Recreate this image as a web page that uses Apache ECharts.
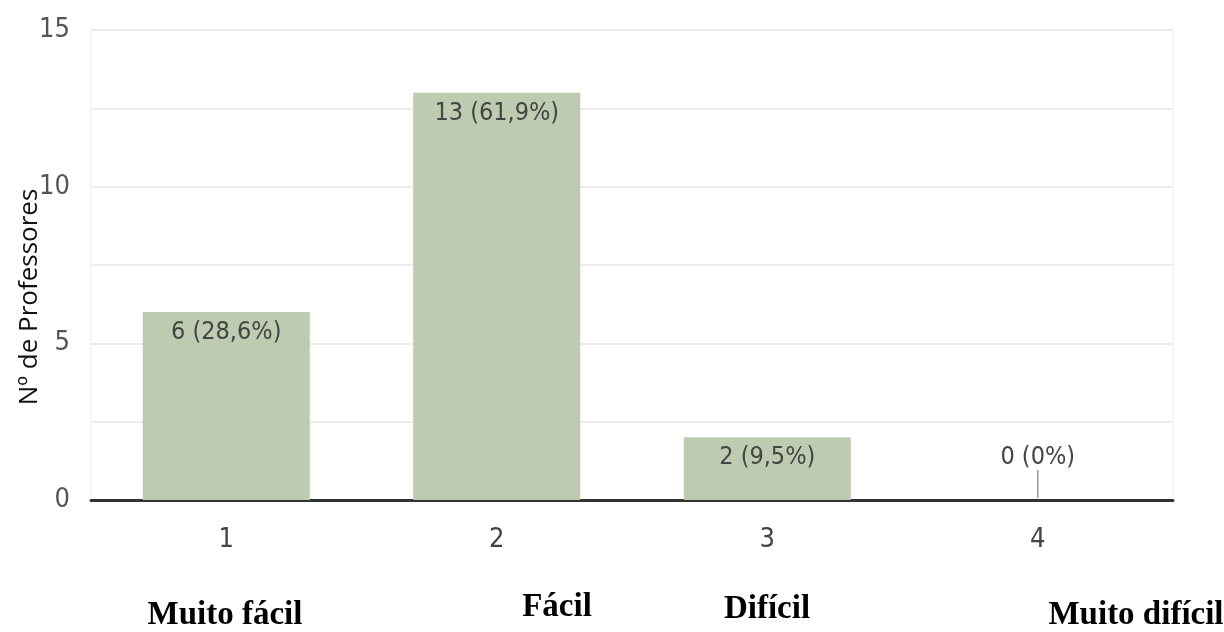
<!DOCTYPE html>
<html>
<head>
<meta charset="utf-8">
<script src="https://cdn.jsdelivr.net/npm/echarts@6/dist/echarts.min.js"></script>
<style>
  html, body { margin: 0; padding: 0; background: #fff; }
  #chart { width: 1224px; height: 632px; }
</style>
</head>
<body>
<div id="chart"></div>
<script>
const categories = ['1', '2', '3', '4'];
const counts = [6, 13, 2, 0];
const percents = ['28,6%', '61,9%', '9,5%', '0%'];
const levelNames = ['Muito fácil', 'Fácil', 'Difícil', 'Muito difícil'];
const yTicks = [0, 5, 10, 15];

const narrow = "'Liberation Sans Narrow', 'DejaVu Sans Condensed', Roboto, sans-serif";

const chart = echarts.init(document.getElementById('chart'));

// bottom names, placed under each category
const namePos = [[225, 632], [557, 624], [767, 626], [1136, 632]];

// empty categories get their label above the axis
const barData = counts.map(v => v === 0
  ? { value: v, label: { position: 'top', distance: 30 } }
  : v);

chart.setOption({
  animation: false,
  grid: {
    left: 91, right: 51, top: 30, bottom: 132,
    show: true, borderColor: '#ececec', borderWidth: 1
  },
  xAxis: {
    type: 'category',
    data: categories,
    axisTick: { show: false },
    axisLine: { lineStyle: { color: '#333', width: 3 } },
    axisLabel: { color: '#444', fontSize: 27, fontFamily: narrow, margin: 26 }
  },
  yAxis: {
    type: 'value',
    min: 0, max: 15, interval: 2.5,
    axisLine: { show: false },
    axisTick: { show: false },
    axisLabel: {
      color: '#555', fontSize: 27, fontFamily: narrow, margin: 21,
      formatter: v => (yTicks.indexOf(v) >= 0 ? String(v) : '')
    },
    splitLine: { lineStyle: { color: '#ececec', width: 2 } }
  },
  series: [
    {
      type: 'bar',
      barWidth: 167,
      data: barData,
      itemStyle: { color: '#bdcbb0' },
      label: {
        show: true,
        position: 'insideTop',
        distance: 8,
        color: '#444',
        fontSize: 25,
        fontFamily: narrow,
        formatter: p => p.value + ' (' + percents[p.dataIndex] + ')'
      }
    },
    {
      // leader line for empty categories
      type: 'custom',
      data: counts.map((v, i) => [i, v]),
      renderItem: (params, api) => {
        if (api.value(1) !== 0) return;
        const p = api.coord([api.value(0), 0]);
        return {
          type: 'line',
          shape: { x1: p[0], y1: p[1] - 2, x2: p[0], y2: p[1] - 30 },
          style: { stroke: '#999', lineWidth: 1.5 }
        };
      },
      z: 5
    }
  ],
  graphic: [
    {
      type: 'text',
      x: 30, y: 297,
      rotation: Math.PI / 2,
      style: {
        text: 'Nº de Professores',
        fill: '#111',
        font: "26px 'Open Sans', 'Noto Sans', sans-serif",
        textAlign: 'center',
        textVerticalAlign: 'middle'
      }
    }
  ].concat(levelNames.map((t, i) => ({
    type: 'text',
    x: namePos[i][0],
    y: namePos[i][1],
    style: {
      text: t,
      fill: '#000',
      font: "bold 33px 'Liberation Serif', 'DejaVu Serif', serif",
      textAlign: 'center',
      textVerticalAlign: 'bottom'
    }
  })))
});
</script>
</body>
</html>
